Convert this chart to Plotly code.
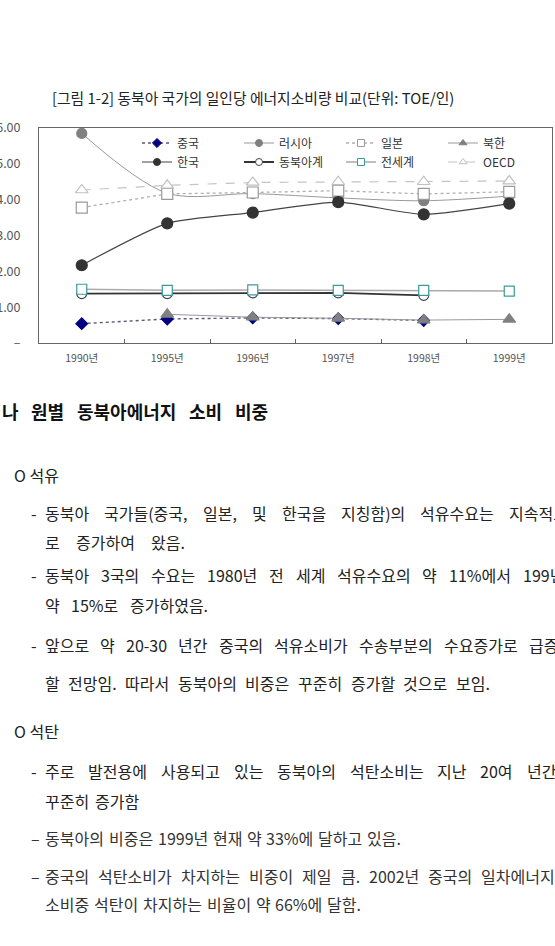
import glob
import plotly.graph_objects as go

# ---- data ----
years = ["1990년", "1995년", "1996년", "1997년", "1998년", "1999년"]
china = [0.54, 0.67, 0.70, 0.68, 0.63, None]
russia = [5.85, 4.18, 4.17, 4.05, 3.97, 4.10]
japan = [3.78, 4.16, 4.20, 4.25, 4.16, 4.22]
nkorea = [None, 0.80, 0.72, 0.69, 0.64, 0.66]
korea = [2.17, 3.34, 3.64, 3.93, 3.59, 3.89]
nea = [1.38, 1.38, 1.40, 1.40, 1.33, None]
world = [1.50, 1.47, 1.48, 1.47, 1.47, 1.45]
oecd = [4.27, 4.40, 4.48, 4.50, 4.50, 4.52]
ytick_vals = [0, 1, 2, 3, 4, 5, 6]
ytick_text = ["–", "1.00", "2.00", "3.00", "4.00", "5.00", "6.00"]

title_text = "[그림 1-2] 동북아 국가의 일인당 에너지소비량 비교(단위: TOE/인)"
heading = "나 원별 동북아에너지 소비 비중"
# (text, left px, right px or None for natural spacing, centre y px, colour)
body_lines = [
    ("O 석유", 12, None, 475, "#222"),
    ("- 동북아 국가들(중국, 일본, 및 한국을 지칭함)의 석유수요는 지속적으", 29, 566, 513, "#222"),
    ("로 증가하여 왔음.", 43, 183, 542, "#222"),
    ("- 동북아 3국의 수요는 1980년 전 세계 석유수요의 약 11%에서 199년", 29, 562, 575, "#222"),
    ("약 15%로 증가하였음.", 43, 206, 605, "#222"),
    ("- 앞으로 약 20-30 년간 중국의 석유소비가 수송부분의 수요증가로 급증", 29, 556, 645, "#222"),
    ("할 전망임.  따라서 동북아의 비중은 꾸준히 증가할 것으로 보임.", 43, 488, 683, "#222"),
    ("O 석탄", 12, None, 731, "#222"),
    ("- 주로 발전용에 사용되고 있는 동북아의 석탄소비는 지난 20여 년간", 29, 554, 771, "#222"),
    ("꾸준히 증가함", 43, 137, 801, "#222"),
    ("– 동북아의 비중은 1999년 현재 약 33%에 달하고 있음.", 29, 393, 838, "#333"),
    ("– 중국의 석탄소비가 차지하는 비중이 제일 큼.  2002년 중국의 일차에너지", 29, 553, 876, "#333"),
    ("소비중 석탄이 차지하는 비율이 약 66%에 달함.", 43, 347, 904, "#333"),
]

W, H = 555, 946
L, R, T, B = 39, 3, 128, 946 - 343
PW, PH = W - L - R, H - T - B


def px(x):
    return (x - L) / PW


def py(y):
    return (H - B - y) / PH


FONT = "Noto Sans CJK KR"
BODY = 16


# ---- text width measurement (font metrics if available, else estimate) ----
def _find_font(bold):
    pats = ["/usr/share/fonts/**/NotoSansCJK*", "/usr/local/share/fonts/**/NotoSansCJK*",
            "/usr/share/fonts/**/NotoSansKR*"]
    files = []
    for p in pats:
        files += glob.glob(p, recursive=True)
    key = "Bold" if bold else "Regular"
    cand = [f for f in files if key in f and f.lower().endswith((".ttc", ".otf", ".ttf"))]
    kr = [f for f in cand if "KR" in f or "kr" in f]
    return (kr or cand or [None])[0]


_metrics = {}


def _load(bold):
    if bold in _metrics:
        return _metrics[bold]
    m = None
    path = _find_font(bold)
    if path:
        try:
            from fontTools.ttLib import TTFont
            if path.lower().endswith(".ttc"):
                from fontTools.ttLib import TTCollection
                tt = TTCollection(path).fonts[0]
            else:
                tt = TTFont(path)
            m = ("ft", tt.getBestCmap(), tt["hmtx"], tt["head"].unitsPerEm)
        except Exception:
            try:
                from PIL import ImageFont
                m = ("pil", ImageFont.truetype(path, 200), None, 200)
            except Exception:
                m = None
    _metrics[bold] = m
    return m


def _est(ch):
    o = ord(ch)
    if 0xAC00 <= o <= 0xD7A3:
        return 1.0
    if ch.isdigit():
        return 0.55
    return {"%": 0.85, "(": 0.33, ")": 0.33, ",": 0.27, ".": 0.27, "-": 0.35, "–": 0.5}.get(ch, 0.6)


def text_w(s, f, bold=False):
    m = _load(bold)
    if m and m[0] == "ft":
        _, cmap, hmtx, upm = m
        tot = 0
        for ch in s:
            g = cmap.get(ord(ch))
            tot += hmtx[g][0] / upm if g else _est(ch)
        return tot * f
    if m and m[0] == "pil":
        return m[1].getlength(s) / 200 * f
    return sum(_est(c) for c in s) * f


annotations = [
    dict(text=title_text, x=px(50), y=py(97), xref="paper", yref="paper",
         xanchor="left", yanchor="middle", showarrow=False,
         font=dict(family=FONT, size=14.8, color="#222")),
]


def ann(text, x, y, anchor, font):
    annotations.append(dict(text=text, x=px(x), y=py(y), xref="paper", yref="paper",
                            xanchor=anchor, yanchor="middle", showarrow=False, font=font))


def place_line(text, x0, x1, y, size, color, bold=False):
    font = dict(family=FONT, size=size, color=color, weight=700 if bold else 400)
    if x1 is None:
        ann(text.replace(" ", "\u00a0"), x0, y, "left", font)
        return
    words = text.split()
    if words[0] in ("-", "–"):
        ann(words[0], x0, y, "left", font)
        words = words[1:]
        x0 += 14
    widths = [text_w(w, size, bold) for w in words]
    gap = (x1 - x0 - sum(widths)) / (len(words) - 1)
    gap = max(gap, 0.3 * size)
    x = x0
    for i, w in enumerate(words):
        ann(w, x, y, "left", font)
        x += widths[i] + gap


place_line(heading, 0, 266, 411, 18, "#111", bold=True)
for txt, a, b, yy, col in body_lines:
    place_line(txt, a, b, yy, BODY, col)

fig = go.Figure()


def add(name, y, color, width, dash, shape, msym, msize, mcolor, mline, legend, smooth=1.0):
    fig.add_trace(go.Scatter(
        x=years, y=y, name=name, mode="lines+markers", showlegend=False,
        line=dict(color=color, width=width, dash=dash, shape=shape, smoothing=smooth),
        marker=dict(symbol=msym, size=msize, color=mcolor, line=dict(color=mline, width=1.2)),
        connectgaps=False, hoverinfo="name+y",
    ))
    # legend entry with the smaller legend symbol
    fig.add_trace(go.Scatter(
        x=[None], y=[None], name=name, mode="lines+markers", legend=legend,
        line=dict(color=color, width=width, dash=dash),
        marker=dict(symbol=msym, size=7, color=mcolor, line=dict(color=mline, width=1)),
        hoverinfo="skip",
    ))


add("중국", china, "#5a5a7a", 1.4, "dot", "linear", "diamond", 9, "#000080", "#000080", "legend")
add("러시아", russia, "#9a9a9a", 1.0, "solid", "spline", "circle", 10, "#808080", "#808080", "legend", 0.9)
add("일본", japan, "#b0b0b0", 1.3, "dot", "linear", "square", 11, "#ffffff", "#9a9a9a", "legend")
add("북한", nkorea, "#9a9a9a", 1.0, "solid", "linear", "triangle-up", 11, "#808080", "#808080", "legend")
add("한국", korea, "#444444", 1.2, "solid", "spline", "circle", 11, "#333333", "#333333", "legend2", 0.6)
add("동북아계", nea, "#333333", 1.8, "solid", "linear", "circle", 10, "#ffffff", "#444444", "legend2")
add("전세계", world, "#aaaaaa", 1.6, "solid", "linear", "square", 10, "#ffffff", "#3a9a9a", "legend2")
add("OECD", oecd, "#c4c4c4", 1.2, "dash", "linear", "triangle-up", 11, "#ffffff", "#c0c0c0", "legend2")

legend_common = dict(
    orientation="h", xanchor="left", yanchor="middle",
    bgcolor="rgba(0,0,0,0)", borderwidth=0,
    font=dict(family=FONT, size=12, color="#333"),
    entrywidth=57, entrywidthmode="pixels", itemsizing="trace",
    tracegroupgap=0, itemclick=False, itemdoubleclick=False,
)

fig.update_layout(
    width=W, height=H,
    margin=dict(l=L, r=R, t=T, b=B, autoexpand=False),
    paper_bgcolor="white", plot_bgcolor="white",
    showlegend=True,
    legend=dict(x=px(137), y=py(143), **legend_common),
    legend2=dict(x=px(137), y=py(162), **legend_common),
    annotations=annotations,
    xaxis=dict(
        type="category", range=[-0.5, 5.5], tickson="boundaries",
        ticks="inside", ticklen=4, tickcolor="#666", tickwidth=1,
        showline=True, linecolor="#666", linewidth=1, mirror=True,
        showgrid=False, zeroline=False, fixedrange=True,
        tickfont=dict(family=FONT, size=10.5, color="#555"), ticklabelstandoff=5,
    ),
    yaxis=dict(
        range=[0, 6], tickvals=ytick_vals, ticktext=ytick_text,
        ticks="", showline=True, linecolor="#666", linewidth=1, mirror=True,
        showgrid=False, zeroline=False, fixedrange=True, automargin=False,
        tickfont=dict(family=FONT, size=12.5, color="#555"), ticklabelstandoff=15,
    ),
)

fig.write_html("out.html", config={"displayModeBar": False})
